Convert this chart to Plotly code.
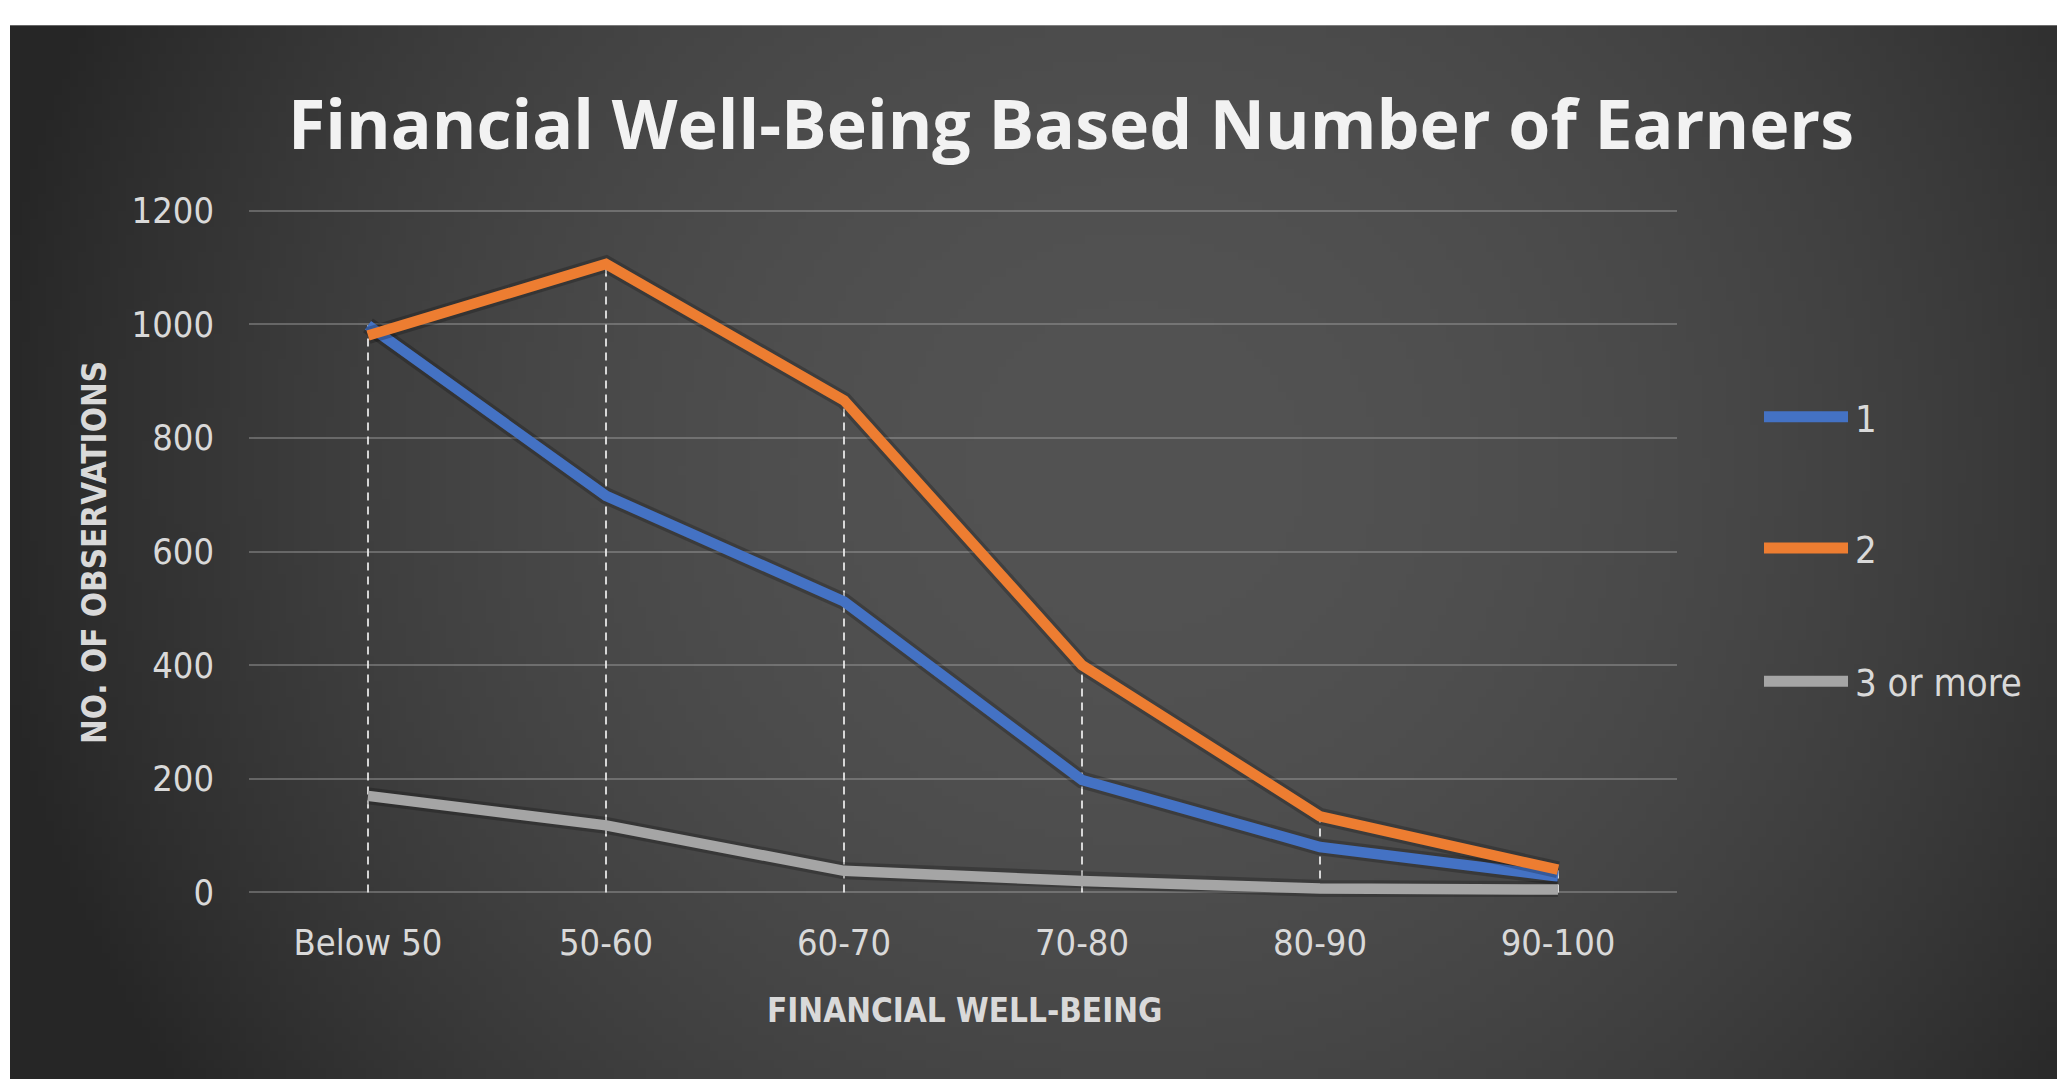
import base64
import struct
import zlib

import plotly.graph_objects as go

# ---------------- data ----------------
categories = ["Below 50", "50-60", "60-70", "70-80", "80-90", "90-100"]
series_names = ["1", "2", "3 or more"]
earners_1 = [998, 698, 512, 198, 80, 28]
earners_2 = [980, 1106, 866, 400, 134, 40]
earners_3 = [170, 118, 38, 20, 7, 5]
y_ticks = [0, 200, 400, 600, 800, 1000, 1200]

title_text = "Financial Well-Being Based Number of Earners"
x_title = "FINANCIAL WELL-BEING"
y_title = "NO. OF OBSERVATIONS"

colors = ["#4472C4", "#ED7D31", "#A5A5A5"]

# ---------------- geometry ----------------
W, H = 2057, 1079
Y_MIN, Y_MAX, Y_PAD = 0, 1200, 8          # pad keeps edge gridlines visible
PX_TOP, PX_BOTTOM = 211, 892               # pixel rows of 1200 and 0
unit = (PX_BOTTOM - PX_TOP) / (Y_MAX - Y_MIN)
L, R = 249, 2057 - 1677
T = PX_TOP - Y_PAD * unit
B = (H - PX_BOTTOM) - Y_PAD * unit
PW, PH = W - L - R, H - T - B


def px_to_paper_x(px):
    return (px - L) / PW


def py_to_paper_y(py):
    return (H - B - py) / PH


# ---------------- gradient background (PNG) ----------------
def gradient_png(w=256, h=128):
    rows = []
    for j in range(h):
        y = j / (h - 1)
        row = bytearray([0])
        for i in range(w):
            x = i / (w - 1)
            d2 = ((x - 0.55) / 0.55) ** 2 + ((y - 0.42) / 1.05) ** 2
            v = 83 - 42 * min(d2, 1.25)
            v = max(38, min(86, v))
            row.append(int(v))
        rows.append(bytes(row))
    raw = b"".join(rows)

    def chunk(tag, data):
        c = struct.pack(">I", len(data)) + tag + data
        return c + struct.pack(">I", zlib.crc32(tag + data) & 0xFFFFFFFF)

    png = b"\x89PNG\r\n\x1a\n"
    png += chunk(b"IHDR", struct.pack(">IIBBBBB", w, h, 8, 0, 0, 0, 0))
    png += chunk(b"IDAT", zlib.compress(raw, 9))
    png += chunk(b"IEND", b"")
    return "data:image/png;base64," + base64.b64encode(png).decode()


bg_uri = gradient_png()

# ---------------- figure ----------------
fig = go.Figure()

all_series = [earners_1, earners_2, earners_3]
for name, vals, col in zip(series_names, all_series, colors):
    # soft shadow under the line
    fig.add_trace(go.Scatter(
        x=categories, y=vals, mode="lines", hoverinfo="skip",
        line=dict(color="rgba(0,0,0,0.22)", width=17),
        showlegend=False,
    ))
    fig.add_trace(go.Scatter(
        x=categories, y=vals, mode="lines", name=name,
        line=dict(color=col, width=10.5),
        showlegend=False,
    ))

shapes = []
# drop lines (from highest point down to the axis)
for i, cat in enumerate(categories):
    top = max(s[i] for s in all_series)
    shapes.append(dict(
        type="line", xref="x", yref="y", x0=cat, x1=cat, y0=0, y1=top,
        line=dict(color="rgba(240,240,240,0.85)", width=2, dash="8px,6px"),
        layer="between",
    ))

# custom legend
legend_y_px = [417, 548, 681]
for name, col, lyp in zip(series_names, colors, legend_y_px):
    yy = py_to_paper_y(lyp)
    shapes.append(dict(
        type="line", xref="paper", yref="paper",
        x0=px_to_paper_x(1764), x1=px_to_paper_x(1848), y0=yy, y1=yy,
        line=dict(color=col, width=11),
    ))

annotations = []
for name, lyp in zip(series_names, legend_y_px):
    annotations.append(dict(
        text=name, xref="paper", yref="paper",
        x=px_to_paper_x(1853), y=py_to_paper_y(lyp + 2),
        xanchor="left", yanchor="middle", showarrow=False,
        font=dict(family="DejaVu Sans Condensed, DejaVu Sans", size=38, color="#d9d9d9"),
    ))

annotations.append(dict(
    text=x_title, xref="paper", yref="paper",
    x=px_to_paper_x(964), y=py_to_paper_y(1010),
    xanchor="center", yanchor="middle", showarrow=False,
    font=dict(family="DejaVu Sans Condensed, DejaVu Sans", size=33, color="#d9d9d9", weight="bold"),
))
annotations.append(dict(
    text=y_title, xref="paper", yref="paper",
    x=px_to_paper_x(94), y=py_to_paper_y(553),
    xanchor="center", yanchor="middle", showarrow=False, textangle=-90,
    font=dict(family="DejaVu Sans Condensed, DejaVu Sans", size=33, color="#d9d9d9", weight="bold"),
))

fig.update_layout(
    width=W, height=H,
    margin=dict(l=L, r=R, t=T, b=B, pad=0),
    paper_bgcolor="white",
    plot_bgcolor="rgba(0,0,0,0)",
    title=dict(
        text=title_text, x=1071 / W, y=1 - 125 / H,
        xanchor="center", yanchor="middle", xref="container", yref="container",
        font=dict(family="Open Sans", size=68, color="#f2f2f2", weight="bold"),
    ),
    images=[dict(
        source=bg_uri, xref="paper", yref="paper",
        x=px_to_paper_x(10), y=py_to_paper_y(26),
        sizex=(W - 10) / PW, sizey=(H - 26) / PH,
        xanchor="left", yanchor="top", sizing="stretch", layer="below",
    )],
    shapes=shapes,
    annotations=annotations,
    showlegend=False,
    xaxis=dict(
        type="category", categoryorder="array", categoryarray=categories,
        range=[-0.5, len(categories) - 0.5],
        showgrid=False, zeroline=False, showline=False,
        ticks="", ticklabelstandoff=int(round(26 - Y_PAD * unit)),
        tickfont=dict(family="DejaVu Sans Condensed, DejaVu Sans", size=36, color="#d9d9d9"),
        fixedrange=True,
    ),
    yaxis=dict(
        range=[Y_MIN - Y_PAD, Y_MAX + Y_PAD], tickvals=y_ticks,
        showgrid=True, gridcolor="rgba(160,160,160,0.45)", gridwidth=1.5,
        zeroline=False, showline=False, ticks="", ticklabelstandoff=34,
        tickfont=dict(family="DejaVu Sans Condensed, DejaVu Sans", size=36, color="#d9d9d9"),
        fixedrange=True,
    ),
)

fig.write_html("out.html")
